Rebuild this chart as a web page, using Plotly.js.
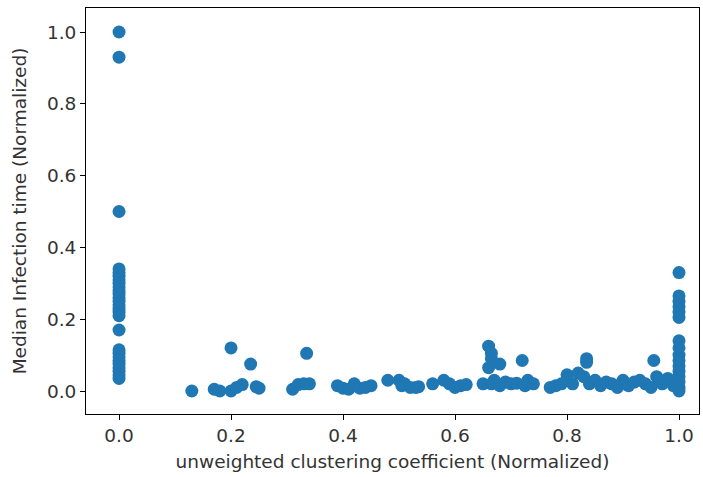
<!DOCTYPE html>
<html>
<head>
<meta charset="utf-8">
<script src="https://cdn.plot.ly/plotly-3.0.1.min.js"></script>
<style>html,body{margin:0;padding:0;background:#fff;}#chart{width:703px;height:477px;}</style>
</head>
<body>
<div id="chart"></div>
<script>
// Points at clustering coefficient 0
const zeroColumnY = [1.0, 0.93, 0.50, 0.34, 0.33, 0.32, 0.31, 0.30, 0.29, 0.28, 0.27, 0.26, 0.25, 0.24, 0.23, 0.22, 0.21, 0.17, 0.115, 0.105, 0.095, 0.085, 0.075, 0.065, 0.055, 0.045, 0.035];
// Points at clustering coefficient 1
const oneColumnY = [0.33, 0.265, 0.25, 0.235, 0.22, 0.205, 0.14, 0.12, 0.10, 0.085, 0.07, 0.055, 0.04, 0.025, 0.01, 0.0];
// Points in between
const midX = [0.13, 0.17, 0.18, 0.20, 0.20, 0.21, 0.22, 0.235, 0.245, 0.25,
  0.31, 0.32, 0.33, 0.335, 0.34, 0.39, 0.40, 0.41, 0.42, 0.43, 0.44, 0.45,
  0.48, 0.50, 0.505, 0.51, 0.52, 0.53, 0.535, 0.56, 0.58, 0.59, 0.60, 0.61, 0.62,
  0.65, 0.66, 0.665, 0.665, 0.66, 0.67, 0.665, 0.68, 0.68, 0.69, 0.70, 0.71, 0.72, 0.725, 0.73, 0.74,
  0.77, 0.78, 0.79, 0.80, 0.80, 0.81, 0.82, 0.83, 0.835, 0.835, 0.84, 0.85, 0.86, 0.87, 0.88, 0.89,
  0.90, 0.905, 0.91, 0.92, 0.93, 0.94, 0.95, 0.955, 0.96, 0.965, 0.97, 0.98, 0.99];
const midY = [0.0, 0.005, 0.0, 0.12, 0.0, 0.01, 0.018, 0.075, 0.012, 0.008,
  0.005, 0.018, 0.02, 0.105, 0.02, 0.015, 0.008, 0.005, 0.02, 0.008, 0.01, 0.015,
  0.03, 0.03, 0.015, 0.02, 0.01, 0.01, 0.012, 0.02, 0.03, 0.02, 0.01, 0.015, 0.018,
  0.02, 0.125, 0.105, 0.09, 0.065, 0.03, 0.02, 0.075, 0.015, 0.025, 0.02, 0.022, 0.085, 0.015, 0.03, 0.02,
  0.01, 0.015, 0.02, 0.045, 0.03, 0.02, 0.05, 0.04, 0.09, 0.08, 0.02, 0.03, 0.015, 0.025, 0.02, 0.01,
  0.03, 0.02, 0.015, 0.025, 0.03, 0.02, 0.01, 0.085, 0.04, 0.03, 0.02, 0.035, 0.015];
const xTicks = [0.0, 0.2, 0.4, 0.6, 0.8, 1.0];
const yTicks = [0.0, 0.2, 0.4, 0.6, 0.8, 1.0];

const xs = zeroColumnY.map(() => 0).concat(midX, oneColumnY.map(() => 1));
const ys = zeroColumnY.concat(midY, oneColumnY);

const font = {family: 'DejaVu Sans', size: 18.5, color: '#333'};
const axisCommon = {
  showline: true, linecolor: '#000', linewidth: 1, mirror: true,
  ticks: 'outside', ticklen: 5, tickwidth: 1, tickcolor: '#000',
  showgrid: false, zeroline: false, tickfont: font
};
Plotly.newPlot('chart', [{
  type: 'scatter', mode: 'markers', x: xs, y: ys,
  marker: {color: '#1f77b4', size: 13, line: {width: 0}}
}], {
  width: 703, height: 477,
  margin: {l: 86, r: 4, t: 8, b: 63},
  paper_bgcolor: '#fff', plot_bgcolor: '#fff',
  showlegend: false,
  xaxis: Object.assign({}, axisCommon, {
    range: [-0.059, 1.0357], tickvals: xTicks, ticktext: xTicks.map(v => v.toFixed(1)),
    title: {text: 'unweighted clustering coefficient (Normalized)', font: font, standoff: 9}
  }),
  yaxis: Object.assign({}, axisCommon, {
    range: [-0.064, 1.0669], tickvals: yTicks, ticktext: yTicks.map(v => v.toFixed(1)),
    title: {text: 'Median Infection time (Normalized)', font: font, standoff: 15}
  })
}, {staticPlot: true});
</script>
</body>
</html>
